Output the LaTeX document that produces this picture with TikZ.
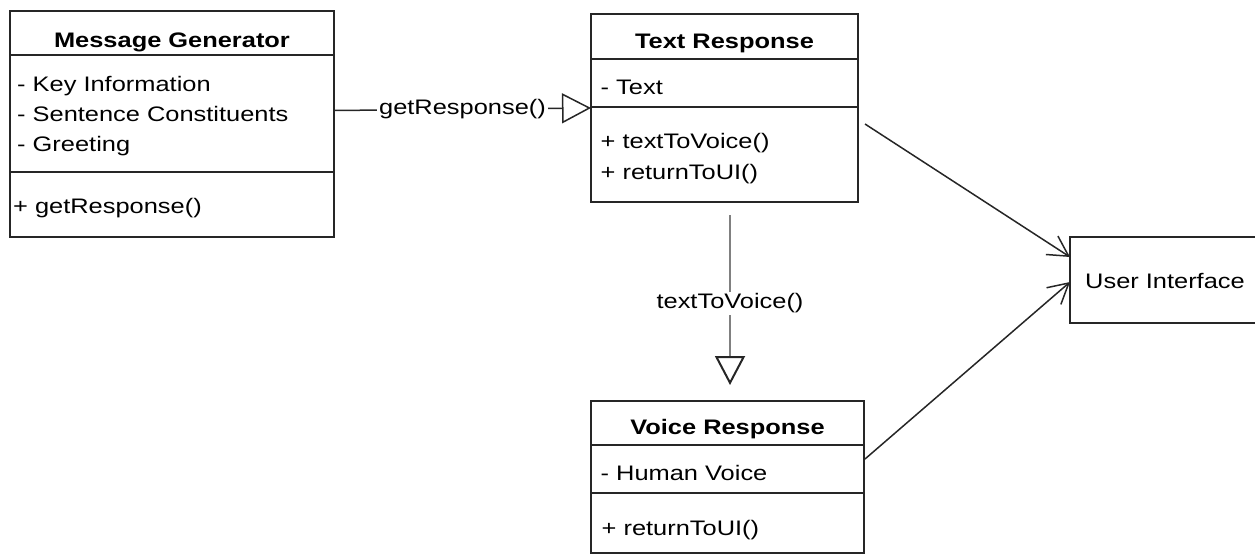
\documentclass[tikz,border=0pt]{standalone}
\usepackage{fontspec}
\setmainfont{Liberation Sans}[FakeStretch=1.21]
\usetikzlibrary{arrows.meta,positioning}

\tikzset{
  classbox/.style={draw=black!85, line width=1.5pt, inner sep=0pt, outer sep=0pt, anchor=north west},
  divider/.style={draw=black!85, line width=1.5pt},
  txt/.style={inner sep=0pt, anchor=base west, font=\fontsize{21}{25}\selectfont},
  ttl/.style={inner sep=0pt, anchor=base, font=\fontsize{21}{25}\selectfont\bfseries},
  conn/.style={draw=black!85, line width=1.5pt},
  inherit/.style={conn, -{Triangle[length=29pt, width=30pt, fill=white, color=black!85]}},
  uses/.style={conn, -{Straight Barb[length=20pt, width=22pt]}},
  lbl/.style={fill=white, inner sep=2pt, font=\fontsize{21}{25}\selectfont}
}

\begin{document}
\begin{tikzpicture}[x=1pt, y=-1pt]
\useasboundingbox (0,0) rectangle (1255,554);

% Message Generator class
\node[classbox, minimum width=324pt, minimum height=226pt] (mg) at (10,11) {};
\draw[divider] (10,55) -- (334,55);
\draw[divider] (10,172) -- (334,172);
\node[ttl] (mgt) at (172,47) {Message Generator};
\node[txt] (mga1) at (17,91) {- Key Information};
\node[txt] (mga2) at (17,121) {- Sentence Constituents};
\node[txt] (mga3) at (17,151) {- Greeting};
\node[txt] (mgm1) at (13,213) {+ getResponse()};

% Text Response class
\node[classbox, minimum width=267pt, minimum height=188pt] (tr) at (591,14) {};
\draw[divider] (591,59) -- (858,59);
\draw[divider] (591,107) -- (858,107);
\node[ttl] (trt) at (724.5,48) {Text Response};
\node[txt] (tra1) at (600.5,94) {- Text};
\node[txt] (trm1) at (600.5,148) {+ textToVoice()};
\node[txt] (trm2) at (600.5,179) {+ returnToUI()};

% Voice Response class
\node[classbox, minimum width=273pt, minimum height=152pt] (vr) at (591,401) {};
\draw[divider] (591,445) -- (864,445);
\draw[divider] (591,493) -- (864,493);
\node[ttl] (vrt) at (727.5,434) {Voice Response};
\node[txt] (vra1) at (600.5,480) {- Human Voice};
\node[txt] (vrm1) at (601.5,535) {+ returnToUI()};

% User Interface
\node[classbox, minimum width=190pt, minimum height=86pt] (ui) at (1070,237) {};
\node[txt] (uit) at (1085,288) {User Interface};

% Relations
\draw[inherit] ([yshift=13.5pt]mg.east) -- node[lbl] (lgr) {getResponse()} (tr.west);
\draw[inherit, draw=black!50, line width=2pt] ([xshift=5.5pt, yshift=-13pt]tr.south) -- node[lbl, pos=0.52] (ltv) {textToVoice()} ([xshift=2.5pt, yshift=16pt]vr.north);
\draw[uses] ([xshift=7pt, yshift=-16pt]tr.east) -- ([yshift=23pt]ui.west);
\draw[uses] ([xshift=1pt, yshift=18pt]vr.east) -- ([yshift=-2pt]ui.west);
\end{tikzpicture}
\end{document}
